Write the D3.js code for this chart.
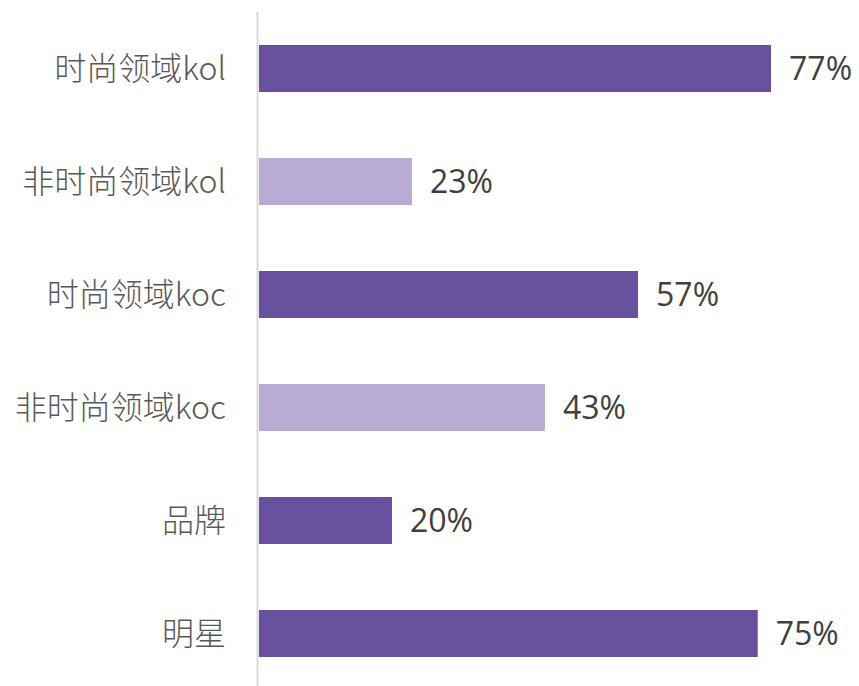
<!DOCTYPE html>
<html><head><meta charset="utf-8">
<script src="https://cdn.jsdelivr.net/npm/d3@7"></script>
<style>body{margin:0;background:#fff;}svg{display:block;}</style>
</head><body>
<svg id="c" width="859" height="686"></svg>
<script>
const categories = ["时尚领域kol","非时尚领域kol","时尚领域koc","非时尚领域koc","品牌","明星"];
const values = [77,23,57,43,20,75];
const shades = ["dark","light","dark","light","dark","dark"];
const colorMap = {dark:"#67509D", light:"#B8ACD4"};

const svg = d3.select("#c");
const x0 = 259;
const x = d3.scaleLinear().domain([0,100]).range([x0, x0 + 665]);
const y = d3.scaleBand().domain(categories).range([12, 690]).paddingInner(0.584).paddingOuter(0.292);

svg.append("line").attr("x1",257.5).attr("x2",257.5).attr("y1",12).attr("y2",686)
  .attr("stroke","#d9d9d9").attr("stroke-width",2);

svg.selectAll("rect.bar").data(categories).join("rect").attr("class","bar")
  .attr("x", x(0)).attr("y", d=>y(d)).attr("height", y.bandwidth())
  .attr("width", (d,i)=>x(values[i])-x(0)).attr("fill",(d,i)=>colorMap[shades[i]]);

svg.selectAll("text.cat").data(categories).join("text").attr("class","cat")
  .attr("x", 226).attr("y", d=>y(d)+y.bandwidth()/2).attr("dy","0.36em")
  .attr("text-anchor","end").attr("fill","#595959")
  .style("font-family","'Noto Sans CJK SC', sans-serif").style("font-size","32px").style("font-weight","300")
  .text(d=>d);

svg.selectAll("text.val").data(categories).join("text").attr("class","val")
  .attr("x", (d,i)=>x(values[i])+18).attr("y", d=>y(d)+y.bandwidth()/2).attr("dy","0.36em")
  .attr("fill","#404040")
  .style("font-family","'Open Sans', sans-serif").style("font-size","32px").style("font-weight","400")
  .text((d,i)=>values[i]+"%");
</script>
</body></html>
